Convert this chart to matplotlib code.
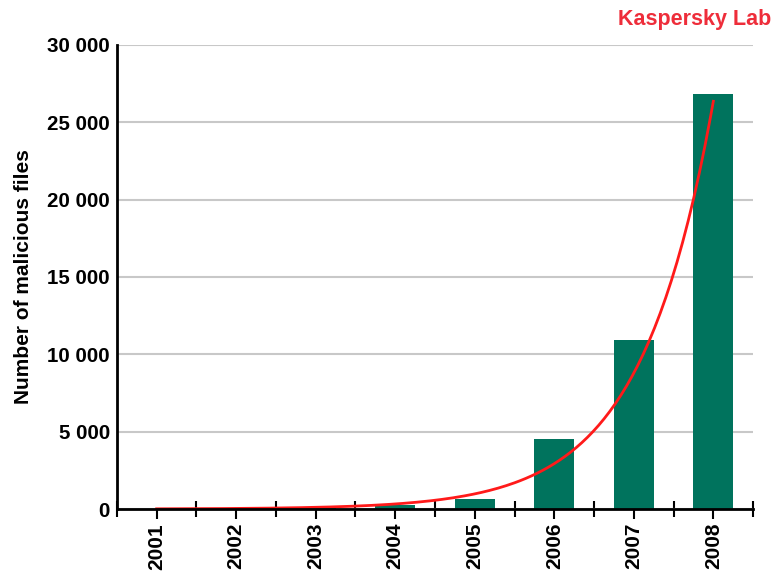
import numpy as np
import matplotlib
matplotlib.use("Agg")
from matplotlib import pyplot as plt
from matplotlib.ticker import FuncFormatter, FixedLocator

# data
years = ["2001", "2002", "2003", "2004", "2005", "2006", "2007", "2008"]
files = [10, 40, 90, 260, 650, 4550, 10900, 26800]
# red trend line, values read at each year
trend = [12, 36, 110, 330, 990, 2960, 8500, 26600]

plt.rcParams['font.family'] = ['Liberation Sans', 'DejaVu Sans']
plt.rcParams['font.weight'] = 'bold'

fig = plt.figure(figsize=(7.74, 5.76), dpi=100)
ax = fig.add_axes([0.151, 0.1163, 0.822, 0.8056])

x = np.arange(len(years))
ax.bar(x, files, width=0.5, color='#00735d', zorder=2)

# exponential trend through the read points
k, b = np.polyfit(x, np.log(trend), 1)
xs = np.linspace(0, len(years) - 1, 200)
ax.plot(xs, np.exp(b + k * xs), color='#ff1a1a', lw=2, zorder=3)

ax.set_xlim(-0.5, len(years) - 0.5)
ax.set_ylim(0, 30000)
ax.set_yticks(np.arange(0, 30001, 5000))
ax.yaxis.set_major_formatter(FuncFormatter(lambda v, p: "{:,}".format(int(v)).replace(",", " ")))
ax.grid(axis='y', color='#c8c8c8', lw=1.5, zorder=0)
ax.set_axisbelow(True)

ax.set_xticks(x)
ax.set_xticklabels(years, rotation=90)
ax.xaxis.set_minor_locator(FixedLocator(np.arange(-0.5, len(years), 1.0)))
ax.tick_params(axis='x', which='major', direction='out', length=7, width=1.5, pad=3, labelsize=15)
ax.tick_params(axis='x', which='minor', direction='inout', length=11, width=1.5)
ax.tick_params(axis='y', length=0, pad=5, labelsize=14.8)

for s in ['top', 'right']:
    ax.spines[s].set_visible(False)
for s in ['left', 'bottom']:
    ax.spines[s].set_linewidth(2)
    ax.spines[s].set_zorder(4)

ax.set_ylabel("Number of malicious files", fontsize=15, fontweight='bold', labelpad=10)

fig.text(0.996, 0.967, "Kaspersky Lab", ha='right', va='center', color='#ee2d3a',
         fontsize=15.5, fontweight='bold')

fig.savefig("out.png", dpi=100)
